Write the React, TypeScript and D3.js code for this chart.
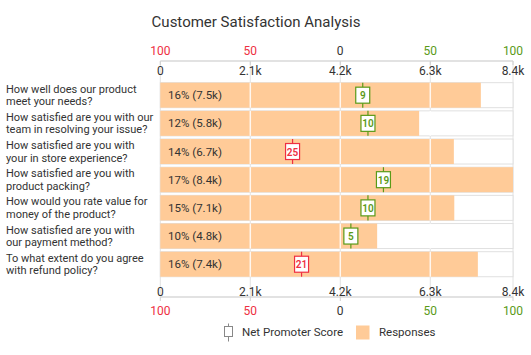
import React from "react";
import * as d3 from "d3";

const questions: string[][] = [
  ["How well does our product", "meet your needs?"],
  ["How satisfied are you with our", "team in resolving your issue?"],
  ["How satisfied are you with", "your in store experience?"],
  ["How satisfied are you with", "product packing?"],
  ["How would you rate value for", "money of the product?"],
  ["How satisfied are you with", "our payment method?"],
  ["To what extent do you agree", "with refund policy?"],
];
const responses = [7480, 6040, 6850, 8230, 6860, 5060, 7410];
const percents = [16, 12, 14, 17, 15, 10, 16];
const countLabels = ["7.5k", "5.8k", "6.7k", "8.4k", "7.1k", "4.8k", "7.4k"];
const npsScores = [9, 10, -25, 19, 10, 5, -21];
const npsPositions = [12.5, 15.4, -26.5, 24, 15.4, 5.9, -21.5];
const valueTicks = [0, 2100, 4200, 6300, 8230];
const valueTickLabels = ["0", "2.1k", "4.2k", "6.3k", "8.4k"];
const npsTicks = [-100, -50, 0, 50, 96];
const npsTickLabels = ["100", "50", "0", "50", "100"];

const W = 531;
const H = 355;
const LEFT = 160.3;
const RIGHT = 513;
const TOP_AXIS = 61;
const BOTTOM_AXIS = 297;
const ORANGE = "#ffcb98";
const GREEN = "#5a9a18";
const RED = "#ee2f42";
const FONT = "Roboto, sans-serif";

export default function App() {
  const x = d3.scaleLinear().domain([0, 8230]).range([LEFT, RIGHT]);
  const nps = d3.scaleLinear().domain([-100, 96]).range([LEFT, RIGHT]);
  const idx = questions.map((_, i) => i);
  const y = d3
    .scaleBand<number>()
    .domain(idx)
    .range([81.1, 278.3])
    .paddingInner(0.1125)
    .paddingOuter(0.056);
  const bw = y.bandwidth();
  const npsColor = (v: number) => (v < 0 ? RED : v > 0 ? GREEN : "#333");

  return (
    <svg
      width={W}
      height={H}
      style={{ position: "absolute", left: 0, top: 0, background: "#fff" }}
      fontFamily={FONT}
    >
      <text x={256} y={22} fontSize={15} fill="#333" textAnchor="middle" dominantBaseline="central">
        Customer Satisfaction Analysis
      </text>

      {/* gridlines */}
      {valueTicks.map((t, i) => (
        <line key={"g" + i} x1={x(t)} x2={x(t)} y1={TOP_AXIS} y2={BOTTOM_AXIS} stroke="#e2e2e2" strokeWidth={1} />
      ))}

      {/* axis lines */}
      <line x1={LEFT} x2={RIGHT} y1={TOP_AXIS} y2={TOP_AXIS} stroke="#d9d9d9" strokeWidth={1.5} />
      <line x1={LEFT} x2={RIGHT} y1={BOTTOM_AXIS} y2={BOTTOM_AXIS} stroke="#d9d9d9" strokeWidth={1.5} />
      {valueTicks.map((t, i) => (
        <g key={"tk" + i}>
          <line x1={x(t)} x2={x(t)} y1={TOP_AXIS} y2={TOP_AXIS + 4} stroke="#d0d0d0" />
          <line x1={x(t)} x2={x(t)} y1={BOTTOM_AXIS} y2={BOTTOM_AXIS + 4} stroke="#d0d0d0" />
        </g>
      ))}

      {/* top labels */}
      {npsTicks.map((t, i) => (
        <text key={"nt" + i} x={nps(t)} y={51} fontSize={12} textAnchor="middle" dominantBaseline="central" fill={npsColor(t)}>
          {npsTickLabels[i]}
        </text>
      ))}
      {valueTicks.map((t, i) => (
        <text key={"vt" + i} x={x(t)} y={71} fontSize={12} textAnchor="middle" dominantBaseline="central" fill="#333">
          {valueTickLabels[i]}
        </text>
      ))}
      {/* bottom labels */}
      {valueTicks.map((t, i) => (
        <text key={"vb" + i} x={x(t)} y={291.5} fontSize={12} textAnchor="middle" dominantBaseline="central" fill="#333">
          {valueTickLabels[i]}
        </text>
      ))}
      {npsTicks.map((t, i) => (
        <text key={"nb" + i} x={nps(t)} y={310.5} fontSize={12} textAnchor="middle" dominantBaseline="central" fill={npsColor(t)}>
          {npsTickLabels[i]}
        </text>
      ))}

      {/* rows */}
      {idx.map((i) => {
        const y0 = y(i)!;
        const cy = y0 + bw / 2;
        const bx = nps(npsPositions[i]);
        const c = npsColor(npsScores[i]);
        return (
          <g key={"r" + i}>
            <rect x={LEFT} y={y0} width={RIGHT - LEFT} height={bw} fill="#fff" stroke="#e0e0e0" strokeWidth={1} />
            <rect x={LEFT} y={y0} width={x(responses[i]) - LEFT} height={bw} fill={ORANGE} />
            {valueTicks.slice(1, 4).map((t, j) => (
              <line key={j} x1={x(t)} x2={x(t)} y1={y0} y2={y0 + bw} stroke="#fff" strokeOpacity={0.85} strokeWidth={1.5} />
            ))}
            <text x={168} y={cy} fontSize={11.5} fill="#333" dominantBaseline="central">
              {`${percents[i]}% (${countLabels[i]})`}
            </text>
            <line x1={bx} x2={bx} y1={y0} y2={y0 + bw} stroke={c} strokeWidth={1.2} />
            <rect x={bx - 7} y={cy - 8} width={14} height={16} fill="#fff" stroke={c} strokeWidth={1.2} />
            <text x={bx} y={cy + 0.5} fontSize={10} fontWeight={600} fill={c} textAnchor="middle" dominantBaseline="central">
              {Math.abs(npsScores[i])}
            </text>
            <text x={6} y={cy - 6} fontSize={11} fill="#333" dominantBaseline="central">
              {questions[i][0]}
            </text>
            <text x={6} y={cy + 6.5} fontSize={11} fill="#333" dominantBaseline="central">
              {questions[i][1]}
            </text>
          </g>
        );
      })}

      {/* legend */}
      <g>
        <line x1={228.5} x2={228.5} y1={323.5} y2={341.5} stroke="#888" />
        <rect x={224.5} y={326.5} width={8} height={10} fill="#fff" stroke="#888" />
        <text x={242} y={332.3} fontSize={11.5} fill="#333" dominantBaseline="central">
          Net Promoter Score
        </text>
        <rect x={356} y={325.5} width={13.5} height={14} fill={ORANGE} />
        <text x={379} y={332.3} fontSize={11.5} fill="#333" dominantBaseline="central">
          Responses
        </text>
      </g>
    </svg>
  );
}
